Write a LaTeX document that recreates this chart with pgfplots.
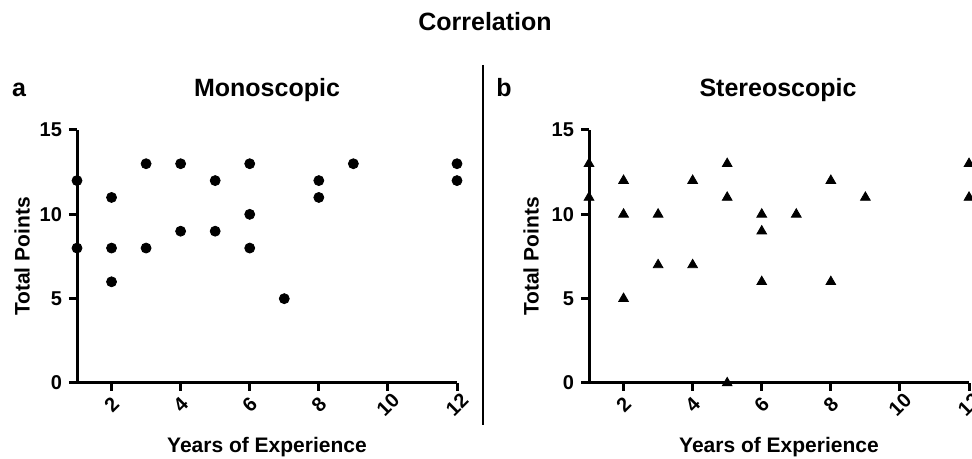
\documentclass[border=0pt]{standalone}
\usepackage{fontspec}
\setmainfont{Liberation Sans}
\usepackage{pgfplots}
\pgfplotsset{compat=1.18}

\pgfplotsset{
  panel/.style={
    scale only axis, width=190pt, height=126.5pt,
    xmin=1, xmax=12, ymin=0, ymax=15,
    axis lines=left,
    axis line style={-, line width=1.5pt, black},
    xtick={2,4,...,12}, ytick={0,5,10,15},
    tick align=outside, major tick length=4pt,
    tick style={line width=1.5pt, black},
    clip=false,
    /pgf/number format/assume math mode=true,
    ticklabel style={font=\bfseries\fontsize{10}{11}\selectfont},
    xticklabel style={rotate=45, anchor=center, xshift=-4.8pt, yshift=-4.8pt},
    label style={font=\bfseries\fontsize{10.5}{12}\selectfont},
    xlabel={Years of Experience},
    ylabel={Total Points},
    xlabel style={at={(axis description cs:0.5,0)}, anchor=center, yshift=-32pt},
    ylabel style={at={(axis description cs:0,0.5)}, anchor=center, yshift=27.5pt},
  }
}

\begin{document}
\begin{tikzpicture}
\path[use as bounding box] (0,0) rectangle (486pt,229.5pt);

\node[font=\bfseries\fontsize{12.5}{14}\selectfont, anchor=base] at (242.5pt,214pt) {Correlation};
\node[font=\bfseries\fontsize{12.5}{14}\selectfont, anchor=base] at (9.5pt,181pt) {a};
\node[font=\bfseries\fontsize{12.5}{14}\selectfont, anchor=base] at (252pt,181pt) {b};
\node[font=\bfseries\fontsize{12.5}{14}\selectfont, anchor=base] at (133.5pt,181pt) {Monoscopic};
\node[font=\bfseries\fontsize{12.5}{14}\selectfont, anchor=base] at (389pt,181pt) {Stereoscopic};
\draw[line width=1pt] (241.5pt,197pt) -- (241.5pt,17pt);

% Monoscopic
\begin{axis}[panel, at={(38.5pt,38pt)}, anchor=south west]
\addplot[only marks, mark=*, mark size=2.5pt, black] coordinates {
  (1,12) (1,8) (2,11) (2,8) (2,6) (3,13) (3,8) (4,13) (4,9)
  (5,12) (5,9) (6,13) (6,10) (6,8) (7,5) (8,12) (8,11) (9,13)
  (12,13) (12,12)
};
\end{axis}

% Stereoscopic
\begin{axis}[panel, at={(294.5pt,38pt)}, anchor=south west,
  ylabel style={yshift=1.5pt}]
\addplot[only marks, mark=triangle*, mark size=2.8pt, black] coordinates {
  (1,13) (1,11) (2,12) (2,10) (2,5) (3,10) (3,7) (4,12) (4,7)
  (5,13) (5,11) (5,0) (6,10) (6,9) (6,6) (7,10) (8,12) (8,6)
  (9,11) (12,13) (12,11)
};
\end{axis}
\end{tikzpicture}
\end{document}
